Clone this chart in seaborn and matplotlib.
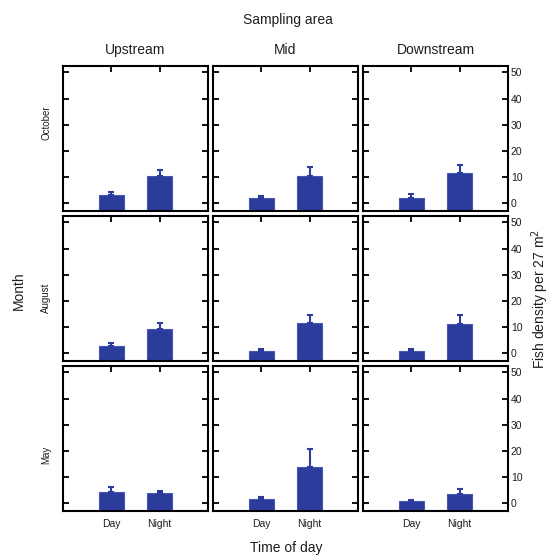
import numpy as np
import pandas as pd
import matplotlib
matplotlib.use("Agg")
import matplotlib.pyplot as plt
import seaborn as sns

# Fish density (mean and upper error limit) per month, sampling area and time of day.
months = ["October", "August", "May"]
areas = ["Upstream", "Mid", "Downstream"]
times = ["Day", "Night"]

# order within each list: Upstream Day, Upstream Night, Mid Day, Mid Night, Downstream Day, Downstream Night
october_mean = [3.3, 10.5, 2.2, 10.6, 2.2, 11.5]
october_upper = [4.4, 12.8, 2.9, 13.7, 3.4, 14.6]
august_mean = [2.8, 9.2, 0.9, 11.7, 0.8, 11.3]
august_upper = [4.0, 11.5, 1.5, 14.5, 1.5, 14.5]
may_mean = [4.4, 4.0, 1.8, 13.7, 0.8, 3.6]
may_upper = [6.2, 4.9, 2.3, 20.6, 1.4, 5.4]

y_ticks = [0, 10, 20, 30, 40, 50]

rows = []
for month, means, uppers in [("October", october_mean, october_upper),
                             ("August", august_mean, august_upper),
                             ("May", may_mean, may_upper)]:
    i = 0
    for area in areas:
        for t in times:
            rows.append(dict(month=month, area=area, time=t,
                             density=means[i], upper=uppers[i]))
            i += 1
df = pd.DataFrame(rows)

sns.set_style("white")
plt.rcParams["font.family"] = ["Liberation Sans", "DejaVu Sans"]

W, H = 553, 558
fig = plt.figure(figsize=(W / 100, H / 100), dpi=100)

bar_color = "#2c3c9c"
edge_color = "#4758b0"
text_color = "#1e1e1e"
y_lo, y_hi = -2.9, 52.4

panel_left = [63, 213, 363]
panel_top = [66, 216, 366]
panel_w, panel_h = 145, 145

for r, month in enumerate(months):
    for c, area in enumerate(areas):
        ax = fig.add_axes([panel_left[c] / W, 1 - (panel_top[r] + panel_h) / H,
                           panel_w / W, panel_h / H])
        sub = df[(df.month == month) & (df.area == area)].set_index("time").loc[times].reset_index()
        sns.barplot(data=sub, x="time", y="density", order=times, color=bar_color,
                    saturation=1, errorbar=None, width=0.52, ax=ax,
                    edgecolor=edge_color, linewidth=0.8)
        # bars stand on the floor of the panel
        for p in ax.patches:
            top = p.get_y() + p.get_height()
            p.set_y(y_lo)
            p.set_height(top - y_lo)
        ax.errorbar(x=np.arange(len(times)), y=sub["density"],
                    yerr=[np.zeros(len(sub)), sub["upper"] - sub["density"]],
                    fmt="none", ecolor=bar_color, elinewidth=1.5,
                    capsize=2.0, capthick=1.5, zorder=5)
        ax.set_xlim(-1, 2)
        ax.set_ylim(y_lo, y_hi)
        ax.set_yticks(y_ticks)
        ax.set_xlabel("")
        ax.set_ylabel("")
        for s in ax.spines.values():
            s.set_visible(True)
            s.set_color("black")
            s.set_linewidth(1.5)
        ax.tick_params(axis="both", direction="in", length=4, width=1.3,
                       colors="black", labelcolor=text_color, labelsize=7.5,
                       top=True, bottom=True, left=True, right=True,
                       labelleft=False, labelright=(c == 2),
                       labelbottom=(r == 2), pad=2)
        ax.tick_params(axis="x", pad=6)
        ax.set_facecolor("white")

# titles and axis labels
fig.text(288 / W, 1 - 20 / H, "Sampling area", ha="center", va="center",
         fontsize=10, color=text_color)
for c, area in enumerate(areas):
    fig.text((panel_left[c] + panel_w / 2) / W, 1 - 50 / H, area,
             ha="center", va="center", fontsize=10, color=text_color)
for month, yc in zip(months, [123, 298, 455]):
    fig.text(46 / W, 1 - yc / H, month, rotation=90, ha="center", va="center",
             fontsize=7, color=text_color)
fig.text(19 / W, 1 - 291 / H, "Month", rotation=90, ha="center", va="center",
         fontsize=10, color=text_color)
fig.text(286 / W, 1 - 548 / H, "Time of day", ha="center", va="center",
         fontsize=10, color=text_color)
fig.text(540 / W, 1 - 299 / H, "Fish density per 27 m$^{2}$", rotation=90,
         ha="center", va="center", fontsize=10, color=text_color)

fig.savefig("out.png", dpi=100, facecolor="white")
